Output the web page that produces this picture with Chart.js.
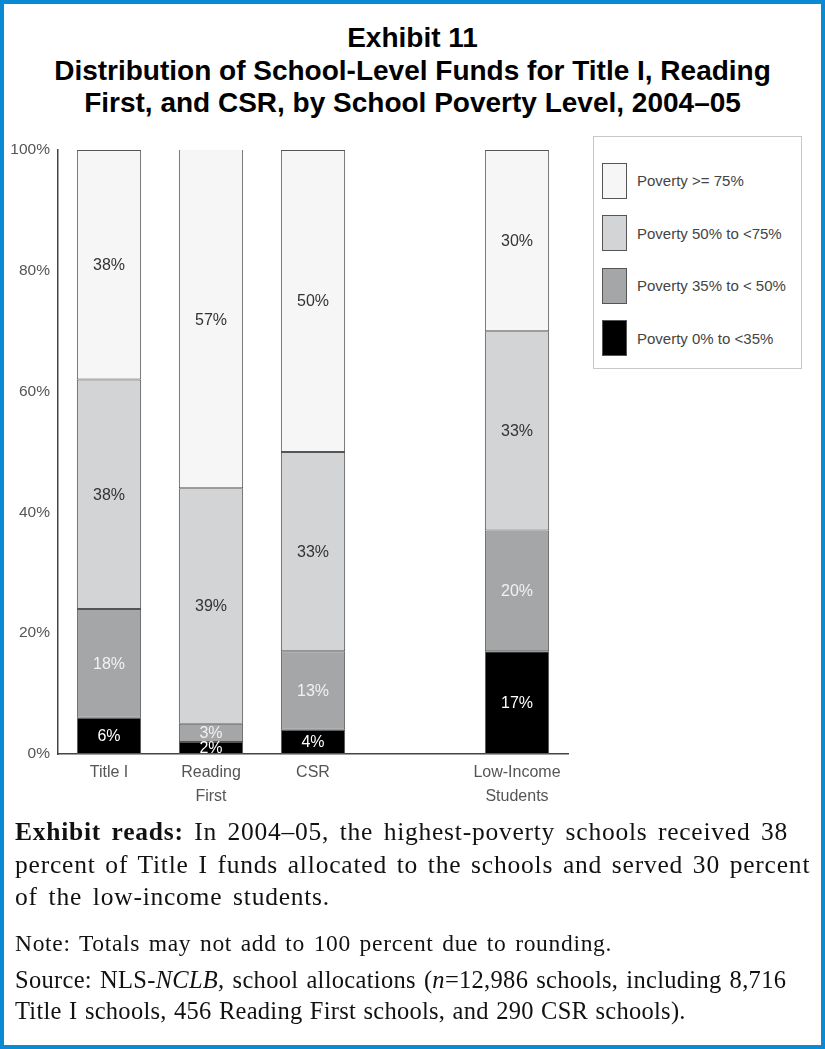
<!DOCTYPE html>
<html>
<head>
<meta charset="utf-8">
<script src="https://cdn.jsdelivr.net/npm/chart.js@4.4.1/dist/chart.umd.min.js"></script>
<style>
  html, body { margin: 0; padding: 0; background: #fff; }
  .frame {
    position: relative;
    width: 825px; height: 1049px;
    box-sizing: border-box;
    border: 4px solid #0a8ad2;
    overflow: hidden;
  }
  .titel {
    position: absolute; left: 0; right: 0; top: 18px;
    text-align: center;
    font-family: "Liberation Sans", Arial, sans-serif;
    font-weight: bold; font-size: 28px; line-height: 32.5px;
    color: #000;
  }
  #grafik { position: absolute; left: 2px; top: 126px; }
  .legenda {
    position: absolute; left: 589px; top: 132px;
    width: 209px; height: 233px;
    box-sizing: border-box;
    border: 1px solid #c8c8c8;
    font-family: "Liberation Sans", Arial, sans-serif;
    font-size: 15px; color: #444;
  }
  .stavka { position: absolute; left: 8px; height: 35px; display: flex; align-items: center; }
  .kutija { width: 23px; height: 34px; border: 1px solid #555; margin-right: 10px; }
  .tekst {
    position: absolute; left: 11px; top: 812px; width: 805px;
    font-family: "Liberation Serif", "Times New Roman", serif;
    color: #111;
  }
  .tekst div { white-space: nowrap; }
  .red { display: inline-block; }
  .cita { font-size: 25.5px; line-height: 32.5px; }
  .nota { font-size: 23.5px; line-height: 31px; margin-top: 14px; }
  .izvor { font-size: 24.5px; line-height: 31px; margin-top: 5px; }
</style>
</head>
<body>
<div class="frame">
  <div class="titel">Exhibit 11<br>Distribution of School-Level Funds for Title I, Reading<br>First, and CSR, by School Poverty Level, 2004–05</div>
  <canvas id="grafik"></canvas>
  <div class="legenda" id="legenda"></div>
  <div class="tekst">
    <div class="cita">
      <span class="red" data-w="773"><b>Exhibit reads:</b> In 2004–05, the highest-poverty schools received 38</span><br>
      <span class="red" data-w="795">percent of Title I funds allocated to the schools and served 30 percent</span><br>
      <span class="red" data-w="315">of the low-income students.</span>
    </div>
    <div class="nota"><span class="red" data-w="597">Note: Totals may not add to 100 percent due to rounding.</span></div>
    <div class="izvor">
      <span class="red" data-w="771">Source: NLS-<i>NCLB,</i> school allocations (<i>n</i>=12,986 schools, including 8,716</span><br>
      <span class="red" data-w="671">Title I schools, 456 Reading First schools, and 290 CSR schools).</span>
    </div>
  </div>
</div>

<script>
// kategorije (prazna kategorija pravi razmak pre poslednjeg stuba)
const kategorije = ["Title I", ["Reading", "First"], "CSR", "", ["Low-Income", "Students"]];

// serije, od dna ka vrhu
const nazivi = ["Poverty 0% to <35%", "Poverty 35% to < 50%", "Poverty 50% to <75%", "Poverty >= 75%"];
const siromasni0do35  = [6, 2, 4, null, 17];
const siromasni35do50 = [18, 3, 13, null, 20];
const siromasni50do75 = [38, 39, 33, null, 33];
const siromasni75     = [38, 57, 50, null, 30];

const yTickovi = [0, 20, 40, 60, 80, 100];

const boje = ["#000000", "#a5a6a8", "#d3d4d6", "#f6f6f6"];
const bojeTeksta = ["#ffffff", "#f2f2f2", "#333333", "#333333"];

const font = "'Liberation Sans', Arial, sans-serif";

// razvuci redove teksta ispod grafika na sirinu kao u originalu
document.querySelectorAll(".red").forEach(sp => {
    let cilj = +sp.dataset.w;
    let w = sp.getBoundingClientRect().width;
    let tekst = sp.textContent;
    let n = tekst.length;
    let razmaci = tekst.split(" ").length - 1;
    let visak = cilj - w;
    let ls = visak * 0.65 / n;
    let ws = razmaci > 0 ? visak * 0.35 / razmaci : 0;
    sp.style.letterSpacing = ls.toFixed(2) + "px";
    sp.style.wordSpacing = ws.toFixed(2) + "px";
});

let serije = [siromasni0do35, siromasni35do50, siromasni50do75, siromasni75];

let skupovi = serije.map((niz, i) => ({
    label: nazivi[i],
    data: niz,
    backgroundColor: boje[i],
    borderColor: "#555555",
    borderWidth: 1,
    borderSkipped: false,
    categoryPercentage: 1,
    barPercentage: 0.63
}));

// natpisi sa procentima u sredini svakog dela stuba
const natpisi = {
    id: "natpisi",
    afterDatasetsDraw(chart) {
        let ctx = chart.ctx;
        let ca = chart.chartArea;
        ctx.save();
        ctx.font = "16px " + font;
        ctx.textAlign = "center";
        ctx.textBaseline = "middle";
        chart.data.datasets.forEach((ds, i) => {
            let meta = chart.getDatasetMeta(i);
            meta.data.forEach((el, j) => {
                let v = ds.data[j];
                if (v == null) return;
                let gore = Math.max(el.y, ca.top);
                let dole = Math.min(el.base, ca.bottom);
                ctx.fillStyle = bojeTeksta[i];
                ctx.fillText(v + "%", el.x, (gore + dole) / 2 + 1);
            });
        });
        ctx.restore();
    }
};

// legenda u HTML-u, pravi je sam Chart.js (generateLabels)
const htmlLegenda = {
    id: "htmlLegenda",
    afterUpdate(chart) {
        let kont = document.getElementById("legenda");
        kont.innerHTML = "";
        let stavke = chart.options.plugins.legend.labels.generateLabels(chart).reverse();
        stavke.forEach((st, i) => {
            let red = document.createElement("div");
            red.className = "stavka";
            red.style.top = (26 + i * 52.5) + "px";
            let k = document.createElement("div");
            k.className = "kutija";
            k.style.background = st.fillStyle;
            red.appendChild(k);
            let t = document.createElement("span");
            t.textContent = st.text;
            red.appendChild(t);
            kont.appendChild(red);
        });
    }
};

let platno = document.getElementById("grafik");
platno.width = 580;
platno.height = 688;
platno.style.width = "580px";
platno.style.height = "688px";

new Chart(platno, {
    type: "bar",
    data: { labels: kategorije, datasets: skupovi },
    options: {
        responsive: false,
        animation: false,
        layout: { padding: { top: 20, right: 18, bottom: 0, left: 0 } },
        plugins: {
            legend: { display: false },
            tooltip: { enabled: false }
        },
        scales: {
            x: {
                stacked: true,
                grid: { display: false, drawTicks: false },
                border: { display: true, color: "#444", width: 1.5 },
                ticks: { color: "#555", padding: 7, font: { family: font, size: 16, lineHeight: 1.5 } },
                afterFit: (s) => { s.height = 64; }
            },
            y: {
                stacked: true,
                min: 0, max: 100,
                grid: { display: false, drawTicks: false },
                border: { display: true, color: "#444", width: 1.5 },
                afterBuildTicks: (s) => { s.ticks = yTickovi.map(v => ({ value: v })); },
                ticks: {
                    color: "#555", padding: 8,
                    font: { family: font, size: 15.5 },
                    callback: (v) => v + "%"
                },
                afterFit: (s) => { s.width = 52; }
            }
        }
    },
    plugins: [natpisi, htmlLegenda]
});
</script>
</body>
</html>
